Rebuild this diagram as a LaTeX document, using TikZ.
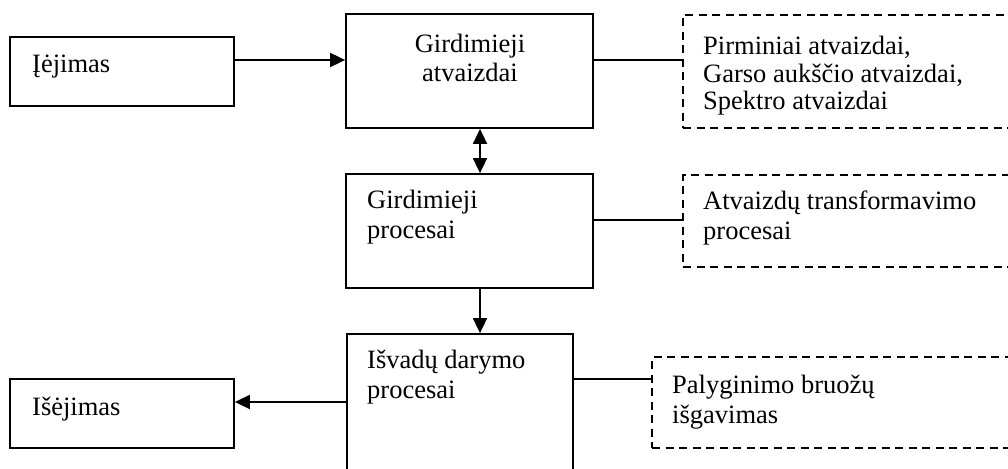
\documentclass[tikz,border=0pt]{standalone}
\usepackage{fontspec}
\setmainfont{Liberation Serif}
\usetikzlibrary{arrows.meta}

\begin{document}
\begin{tikzpicture}[x=1pt, y=-1pt,
  box/.style={draw, line width=1.8pt, inner sep=0pt, minimum width=#1},
  dbox/.style={draw, line width=1.6pt, dash pattern=on 8pt off 5.5pt, inner sep=0pt},
  lbl/.style={inner sep=0pt, anchor=base west, align=left,
              font=\fontsize{26.5}{29.5}\selectfont},
  link/.style={line width=1.8pt},
  arr/.style={line width=1.8pt, -{Triangle[length=15pt, width=14pt]}},
  darr/.style={line width=1.8pt, {Triangle[length=15pt, width=14pt]}-{Triangle[length=15pt, width=14pt]}}
]
\useasboundingbox (0,0) rectangle (1008,468);
\clip (0,0) rectangle (1008,468);

% solid blocks
\node[box=224pt, minimum height=69pt]  (in)  at (122,71.5)   {};
\node[box=247pt, minimum height=114pt] (gA)  at (469.5,71)   {};
\node[box=247pt, minimum height=114pt] (gP)  at (469.5,231)  {};
\node[box=226pt, minimum height=150pt] (iv)  at (460,409)    {};
\node[box=224pt, minimum height=69pt]  (out) at (122,413.5)  {};

% dashed notes, open past the right edge
\node[dbox, minimum width=340pt, minimum height=113pt] (d1) at (853,71.5)  {};
\node[dbox, minimum width=340pt, minimum height=92pt]  (d2) at (853,221)   {};
\node[dbox, minimum width=371pt, minimum height=91pt]  (d3) at (837.5,402.5) {};

% labels (a multi-line label sits on the baseline of its last line)
\node[lbl] (tin)  at (32,73)   {Įėjimas};
\node[lbl, anchor=base, align=center] (tgA) at (470,82) {Girdimieji\\atvaizdai};
\node[lbl, font=\fontsize{26.5}{27.5}\selectfont] (td1) at (703,110) {Pirminiai atvaizdai,\\Garso aukščio atvaizdai,\\Spektro atvaizdai};
\node[lbl] (tgP)  at (367,238) {Girdimieji\\procesai};
\node[lbl] (td2)  at (703,239) {Atvaizdų transformavimo\\procesai};
\node[lbl] (tiv)  at (367,398) {Išvadų darymo\\procesai};
\node[lbl] (tout) at (32,415)  {Išėjimas};
\node[lbl] (td3)  at (672,423) {Palyginimo bruožų\\išgavimas};

% connectors
\draw[arr]  ([yshift=11.5pt]in.east) -- ([yshift=11.5pt]in.east -| gA.west);
\draw[link] ([yshift=11pt]gA.east) -- ([yshift=11pt]gA.east -| d1.west);
\draw[darr] ([xshift=10.5pt]gA.south) -- ([xshift=10.5pt]gA.south |- gP.north);
\draw[link] ([yshift=11pt]gP.east) -- ([yshift=11pt]gP.east -| d2.west);
\draw[arr]  ([xshift=10.5pt]gP.south) -- ([xshift=10.5pt]gP.south |- iv.north);
\draw[link] ([yshift=23.5pt]d3.west -| iv.east) -- ([yshift=23.5pt]d3.west);
\draw[arr]  ([yshift=11.5pt]out.east -| iv.west) -- ([yshift=11.5pt]out.east);
\end{tikzpicture}
\end{document}
